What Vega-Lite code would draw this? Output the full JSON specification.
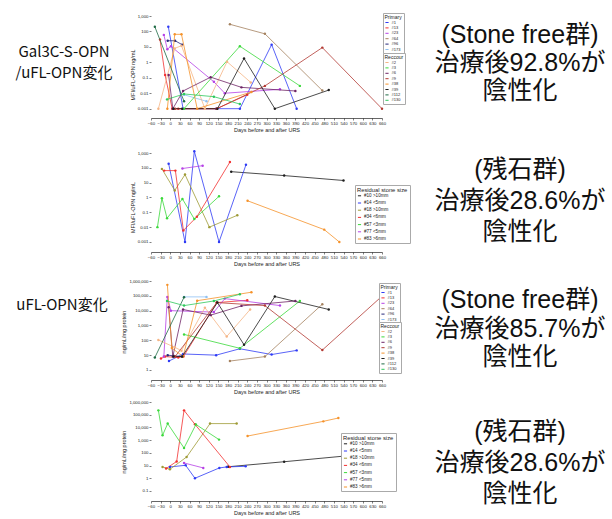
{
"$schema": "https://vega.github.io/schema/vega-lite/v6.json",
"padding": {"left": 0, "right": 0, "top": 12, "bottom": 0},
"background": "white",
"columns": 3,
"spacing": {"row": 20, "column": 48},
"bounds": "flush",
"resolve": {"scale": {"color": "independent"}, "legend": {"color": "independent"}},
"config": {
 "font": "Liberation Sans",
 "view": {"stroke": null},
 "axis": {"grid": false, "labelFontSize": 4.3, "tickSize": 2, "tickWidth": 0.5, "tickColor": "#000", "domainColor": "#000", "domainWidth": 0.6, "labelColor": "#222", "titleColor": "#222", "titleFontSize": 5.5, "titleFontWeight": "normal", "titlePadding": 2, "labelPadding": 1},
 "axisX": {"labelAngle": 0, "labelOverlap": false, "labelFlush": false},
 "axisY": {"domain": false},
 "legend": {"titleFontSize": 5, "titleFontWeight": "normal", "labelFontSize": 4, "symbolSize": 10, "symbolType": "stroke", "symbolStrokeWidth": 1, "rowPadding": 0.4, "padding": 1.5, "strokeColor": "#aaaaaa", "fillColor": "white", "titlePadding": 0.5, "labelOffset": 2, "titleColor": "#222", "labelColor": "#222"}
},
"datasets": {
 "aP": [
  {"id":"#1","day":-6,"v":200},{"id":"#1","day":40,"v":0.001},{"id":"#1","day":143,"v":0.001},{"id":"#1","day":217,"v":0.001},{"id":"#1","day":316,"v":14},{"id":"#1","day":394,"v":0.001},
  {"id":"#13","day":-32,"v":30},{"id":"#13","day":-16,"v":0.15},{"id":"#13","day":6,"v":0.001},{"id":"#13","day":25,"v":0.001},{"id":"#13","day":145,"v":0.001},{"id":"#13","day":240,"v":0.008},
  {"id":"#23","day":-20,"v":60},{"id":"#23","day":-9,"v":7},{"id":"#23","day":2,"v":11},{"id":"#23","day":136,"v":0.055},{"id":"#23","day":170,"v":0.01},{"id":"#23","day":342,"v":0.018},
  {"id":"#64","day":186,"v":290},{"id":"#64","day":295,"v":70},{"id":"#64","day":474,"v":0.015},
  {"id":"#96","day":-8,"v":25},{"id":"#96","day":15,"v":25},{"id":"#96","day":37,"v":14},
  {"id":"#173","day":43,"v":0.008},{"id":"#173","day":113,"v":0.003}
 ],
 "aR": [
  {"id":"#2","day":-37,"v":0.001},{"id":"#2","day":14,"v":8},{"id":"#2","day":35,"v":12},{"id":"#2","day":108,"v":0.001},{"id":"#2","day":177,"v":1.1},{"id":"#2","day":251,"v":0.05},
  {"id":"#3","day":43,"v":0.001},{"id":"#3","day":217,"v":11},{"id":"#3","day":404,"v":0.03},
  {"id":"#6","day":-5,"v":0.15},{"id":"#6","day":8,"v":0.001},{"id":"#6","day":40,"v":0.014},{"id":"#6","day":126,"v":0.11},{"id":"#6","day":222,"v":0.024},{"id":"#6","day":390,"v":0.014},
  {"id":"#9","day":15,"v":0.001},{"id":"#9","day":145,"v":0.001},{"id":"#9","day":295,"v":0.03},{"id":"#9","day":474,"v":9},{"id":"#9","day":660,"v":0.001},
  {"id":"#38","day":-9,"v":0.001},{"id":"#38","day":14,"v":65},{"id":"#38","day":35,"v":65},{"id":"#38","day":84,"v":0.001},{"id":"#38","day":253,"v":0.012},
  {"id":"#39","day":10,"v":0.001},{"id":"#39","day":37,"v":0.001},{"id":"#39","day":147,"v":0.001},{"id":"#39","day":230,"v":1.8},{"id":"#39","day":326,"v":0.001},{"id":"#39","day":494,"v":0.016},
  {"id":"#112","day":-48,"v":200},{"id":"#112","day":43,"v":0.003},
  {"id":"#130","day":-10,"v":0.004},{"id":"#130","day":43,"v":0.009},{"id":"#130","day":136,"v":0.006},{"id":"#130","day":217,"v":0.002}
 ],
 "bD": [
  {"id":"#10 >10mm","day":190,"v":55},{"id":"#10 >10mm","day":355,"v":30},{"id":"#10 >10mm","day":540,"v":14},
  {"id":"#14 <5mm","day":-5,"v":190},{"id":"#14 <5mm","day":46,"v":0.001},{"id":"#14 <5mm","day":75,"v":1300},{"id":"#14 <5mm","day":152,"v":0.001},{"id":"#14 <5mm","day":236,"v":160},
  {"id":"#18 >10mm","day":-26,"v":85},{"id":"#18 >10mm","day":14,"v":3},{"id":"#18 >10mm","day":46,"v":35},{"id":"#18 >10mm","day":122,"v":0.01},{"id":"#18 >10mm","day":209,"v":0.063},
  {"id":"#34 <6mm","day":-19,"v":65},{"id":"#34 <6mm","day":16,"v":65},{"id":"#34 <6mm","day":41,"v":0.006},{"id":"#34 <6mm","day":83,"v":0.05},{"id":"#34 <6mm","day":186,"v":245},
  {"id":"#57 <3mm","day":-40,"v":0.01},{"id":"#57 <3mm","day":-26,"v":0.9},{"id":"#57 <3mm","day":-10,"v":0.04},{"id":"#57 <3mm","day":38,"v":0.8},{"id":"#57 <3mm","day":75,"v":0.035},{"id":"#57 <3mm","day":152,"v":1.2},
  {"id":"#77 <5mm","day":38,"v":90},{"id":"#77 <5mm","day":101,"v":140},
  {"id":"#83 >6mm","day":241,"v":0.6},{"id":"#83 >6mm","day":480,"v":0.0068},{"id":"#83 >6mm","day":527,"v":0.001}
 ],
 "cP": [
  {"id":"#1","day":-4,"v":4},{"id":"#1","day":40,"v":12},{"id":"#1","day":143,"v":10},{"id":"#1","day":217,"v":27},{"id":"#1","day":316,"v":11},{"id":"#1","day":394,"v":21},
  {"id":"#13","day":-29,"v":6},{"id":"#13","day":-16,"v":8},{"id":"#13","day":25,"v":7},{"id":"#13","day":41,"v":8},{"id":"#13","day":145,"v":35000},{"id":"#13","day":240,"v":50000},
  {"id":"#23","day":-20,"v":8},{"id":"#23","day":-9,"v":85000},{"id":"#23","day":2,"v":10000},{"id":"#23","day":136,"v":8000},{"id":"#23","day":170,"v":65000},{"id":"#23","day":342,"v":22000},
  {"id":"#64","day":186,"v":4},{"id":"#64","day":295,"v":8},{"id":"#64","day":474,"v":27000},
  {"id":"#96","day":-8,"v":10},{"id":"#96","day":10,"v":9},{"id":"#96","day":37,"v":8},
  {"id":"#173","day":43,"v":85000},{"id":"#173","day":113,"v":85000}
 ],
 "cR": [
  {"id":"#2","day":-37,"v":105},{"id":"#2","day":14,"v":34},{"id":"#2","day":35,"v":20},{"id":"#2","day":108,"v":16000},{"id":"#2","day":176,"v":180},{"id":"#2","day":249,"v":12000},
  {"id":"#3","day":43,"v":250},{"id":"#3","day":217,"v":29},{"id":"#3","day":404,"v":45000},
  {"id":"#6","day":-5,"v":17000},{"id":"#6","day":8,"v":8},{"id":"#6","day":40,"v":12000},{"id":"#6","day":126,"v":5000},{"id":"#6","day":222,"v":21000},{"id":"#6","day":390,"v":45000},
  {"id":"#9","day":15,"v":8},{"id":"#9","day":145,"v":35000},{"id":"#9","day":295,"v":22000},{"id":"#9","day":474,"v":22},{"id":"#9","day":660,"v":95000},
  {"id":"#38","day":-9,"v":550000},{"id":"#38","day":5,"v":30},{"id":"#38","day":40,"v":8},{"id":"#38","day":84,"v":47000},{"id":"#38","day":253,"v":175000},
  {"id":"#39","day":10,"v":8},{"id":"#39","day":37,"v":8},{"id":"#39","day":147,"v":35000},{"id":"#39","day":230,"v":50},{"id":"#39","day":326,"v":90000},{"id":"#39","day":494,"v":12000},
  {"id":"#112","day":-48,"v":7},{"id":"#112","day":43,"v":80000},
  {"id":"#130","day":-10,"v":45000},{"id":"#130","day":43,"v":22000},{"id":"#130","day":136,"v":45000},{"id":"#130","day":217,"v":127000}
 ],
 "dD": [
  {"id":"#10 >10mm","day":180,"v":8},{"id":"#10 >10mm","day":355,"v":20},{"id":"#10 >10mm","day":540,"v":55},
  {"id":"#14 <5mm","day":-1,"v":7.8},{"id":"#14 <5mm","day":48,"v":10.5},{"id":"#14 <5mm","day":77,"v":1},{"id":"#14 <5mm","day":153,"v":6.5},{"id":"#14 <5mm","day":176,"v":7.8},{"id":"#14 <5mm","day":235,"v":8.7},
  {"id":"#18 >10mm","day":-24,"v":7.8},{"id":"#18 >10mm","day":-1,"v":5.1},{"id":"#18 >10mm","day":51,"v":47},{"id":"#18 >10mm","day":124,"v":20000},{"id":"#18 >10mm","day":207,"v":20000},
  {"id":"#34 <6mm","day":-13,"v":5.8},{"id":"#34 <6mm","day":20,"v":21},{"id":"#34 <6mm","day":43,"v":220000},{"id":"#34 <6mm","day":77,"v":17500},{"id":"#34 <6mm","day":186,"v":7.8},
  {"id":"#57 <3mm","day":-37,"v":220000},{"id":"#57 <3mm","day":-24,"v":2400},{"id":"#57 <3mm","day":-8,"v":20000},{"id":"#57 <3mm","day":43,"v":240},{"id":"#57 <3mm","day":80,"v":17000},{"id":"#57 <3mm","day":152,"v":1100},
  {"id":"#77 <5mm","day":43,"v":16},{"id":"#77 <5mm","day":103,"v":6.5},
  {"id":"#83 >6mm","day":241,"v":2100},{"id":"#83 >6mm","day":477,"v":30000},{"id":"#83 >6mm","day":524,"v":55000}
 ]
},
"concat": [
 {"width": 103, "height": 117,
  "data": {"values": [{"line": 1, "t": "Gal3C-S-OPN"}, {"line": 2, "t": "/uFL-OPN変化"}]},
  "mark": {"type": "text", "font": "Noto Sans CJK JP", "fontSize": 15, "baseline": "middle", "dx": 12.5, "color": "#111"},
  "encoding": {"y": {"field": "line", "type": "quantitative", "scale": {"domain": [-0.714, 4.857], "reverse": true, "nice": false, "zero": false}, "axis": null}, "text": {"field": "t"}}},
 {"width": 231, "height": 117,
  "encoding": {
   "x": {"field": "day", "type": "quantitative", "scale": {"domain": [-60, 660], "nice": false, "zero": false}, "axis": {"values": [-60,-30,0,30,60,90,120,150,180,210,240,270,300,330,360,390,420,450,480,510,540,570,600,630,660], "title": "Days before and after URS", "offset": -15}},
   "y": {"field": "v", "type": "quantitative", "scale": {"type": "log", "domain": [2.673e-5, 1000], "nice": false}, "axis": {"values": [0.001, 0.01, 0.1, 1, 10, 100, 1000], "format": ",", "title": "MFI/uFL-OPN ng/mL"}}
  },
  "layer": [
   {"data": {"values": [{}]}, "mark": {"type": "rule", "stroke": "#999", "strokeWidth": 0.6, "strokeDash": [1.2, 1.2]}, "encoding": {"x": {"datum": -60}, "x2": {"datum": 660}, "y": {"datum": 0.3}}},
   {"data": {"values": [{}]}, "mark": {"type": "rule", "stroke": "#999", "strokeWidth": 0.6, "strokeDash": [1.2, 1.2]}, "encoding": {"x": {"datum": 0}, "y": {"datum": 1000}, "y2": {"datum": 0.00025}}},
   {"data": {"values": [{}]}, "mark": {"type": "rule", "stroke": "#000", "strokeWidth": 0.6}, "encoding": {"x": {"datum": -60}, "y": {"datum": 1000}, "y2": {"datum": 0.001}}},
   {"data": {"name": "aP"}, "mark": {"type": "line", "strokeWidth": 0.8, "point": {"filled": true, "size": 6}},
    "encoding": {"color": {"field": "id", "type": "nominal", "scale": {"domain": ["#1","#13","#23","#64","#96","#173"], "range": ["#2F3BF5","#F23030","#B640E6","#A5825F","#26287A","#8EC0F2"]}, "legend": {"title": "Primary", "orient": "none", "legendX": 232, "legendY": -3}}}},
   {"data": {"name": "aR"}, "mark": {"type": "line", "strokeWidth": 0.8, "point": {"filled": true, "size": 6}},
    "encoding": {"color": {"field": "id", "type": "nominal", "scale": {"domain": ["#2","#3","#6","#9","#38","#39","#112","#130"], "range": ["#F5B585","#3BD93B","#6E2466","#B23A33","#F5922A","#1E1E1E","#1F6B45","#2EC95C"]}, "legend": {"title": "Reccour", "orient": "none", "legendX": 232, "legendY": 37}}}},
   {"data": {"values": [{}]}, "mark": {"type": "text", "text": "Gal3C-S-OPN / uFL-OPN", "fontSize": 5.5, "dy": -6, "color": "#333"}, "encoding": {"x": {"datum": 300}, "y": {"datum": 1000}}},
   {"data": {"values": [{}]}, "mark": {"type": "text", "text": "92.8%", "fontSize": 13, "dy": 7, "color": "#111"}, "encoding": {"x": {"datum": 576}, "y": {"datum": 1000}}},
   {"data": {"values": [{}]}, "mark": {"type": "text", "text": "(13/14) < cutoff", "fontSize": 5, "dy": 15, "color": "#222"}, "encoding": {"x": {"datum": 576}, "y": {"datum": 1000}}},
   {"data": {"values": [{}]}, "mark": {"type": "text", "text": "a", "fontSize": 6.5, "fontWeight": "bold", "dx": -39, "dy": 4}, "encoding": {"x": {"datum": -60}, "y": {"datum": 1000}}},
   {"data": {"values": [{}]}, "mark": {"type": "text", "text": "↑", "fontSize": 8, "dy": 12}, "encoding": {"x": {"datum": 0}, "y": {"datum": 0.00025}}},
   {"data": {"values": [{}]}, "mark": {"type": "text", "text": "URS", "fontSize": 5.5, "fontWeight": "bold", "dy": 19}, "encoding": {"x": {"datum": 0}, "y": {"datum": 0.00025}}}
  ],
  "resolve": {"scale": {"color": "independent"}, "legend": {"color": "independent"}}},
 {"width": 180, "height": 117,
  "data": {"values": [{"line": 1, "t": "(Stone free群)"}, {"line": 2, "t": "治療後92.8%が"}, {"line": 3, "t": "陰性化"}]},
  "mark": {"type": "text", "font": "Liberation Sans, Noto Sans CJK JP", "fontSize": 25, "baseline": "middle", "color": "#111"},
  "encoding": {"y": {"field": "line", "type": "quantitative", "scale": {"domain": [0.321, 4.5], "reverse": true, "nice": false, "zero": false}, "axis": null}, "text": {"field": "t"}}},

 {"width": 103, "height": 108, "data": {"values": [{"t": ""}]}, "mark": {"type": "text"}, "encoding": {"text": {"field": "t"}}},
 {"width": 231, "height": 108,
  "encoding": {
   "x": {"field": "day", "type": "quantitative", "scale": {"domain": [-60, 660], "nice": false, "zero": false}, "axis": {"values": [-60,-30,0,30,60,90,120,150,180,210,240,270,300,330,360,390,420,450,480,510,540,570,600,630,660], "title": "Days before and after URS", "offset": -9}},
   "y": {"field": "v", "type": "quantitative", "scale": {"type": "log", "domain": [5.21e-5, 1000], "nice": false}, "axis": {"values": [0.001, 0.01, 0.1, 1, 10, 100, 1000], "format": ",", "title": "MFI/uFL-OPN ng/mL"}}
  },
  "layer": [
   {"data": {"values": [{}]}, "mark": {"type": "rule", "stroke": "#999", "strokeWidth": 0.6, "strokeDash": [1.2, 1.2]}, "encoding": {"x": {"datum": -60}, "x2": {"datum": 660}, "y": {"datum": 0.3}}},
   {"data": {"values": [{}]}, "mark": {"type": "rule", "stroke": "#999", "strokeWidth": 0.6, "strokeDash": [1.2, 1.2]}, "encoding": {"x": {"datum": 0}, "y": {"datum": 1000}, "y2": {"datum": 0.00021}}},
   {"data": {"values": [{}]}, "mark": {"type": "rule", "stroke": "#000", "strokeWidth": 0.6}, "encoding": {"x": {"datum": -60}, "y": {"datum": 1000}, "y2": {"datum": 0.001}}},
   {"data": {"name": "bD"}, "mark": {"type": "line", "strokeWidth": 0.8, "point": {"filled": true, "size": 6}},
    "encoding": {"color": {"field": "id", "type": "nominal", "scale": {"domain": ["#10 >10mm","#14 <5mm","#18 >10mm","#34 <6mm","#57 <3mm","#77 <5mm","#83 >6mm"], "range": ["#1E1E1E","#2F3BF5","#9E9A35","#F23030","#3BD93B","#B640E6","#F5922A"]}, "legend": {"title": "Residual stone size", "orient": "none", "legendX": 204, "legendY": 32, "labelFontSize": 4.6, "titleFontSize": 5.8, "rowPadding": 1.2, "padding": 2}}}},
   {"data": {"values": [{}]}, "mark": {"type": "text", "text": "Gal3C-S-OPN / uFL-OPN", "fontSize": 5.5, "dy": -1, "color": "#333"}, "encoding": {"x": {"datum": 300}, "y": {"datum": 1000}}},
   {"data": {"values": [{}]}, "mark": {"type": "text", "text": "28.6%", "fontSize": 13, "dy": 12, "color": "#111"}, "encoding": {"x": {"datum": 623}, "y": {"datum": 1000}}},
   {"data": {"values": [{}]}, "mark": {"type": "text", "text": "(2/7) < cutoff", "fontSize": 5, "dy": 20, "color": "#222"}, "encoding": {"x": {"datum": 623}, "y": {"datum": 1000}}},
   {"data": {"values": [{}]}, "mark": {"type": "text", "text": "b", "fontSize": 6.5, "fontWeight": "bold", "dx": -39, "dy": 0}, "encoding": {"x": {"datum": -60}, "y": {"datum": 1000}}},
   {"data": {"values": [{}]}, "mark": {"type": "text", "text": "↑", "fontSize": 8, "dy": 10}, "encoding": {"x": {"datum": 0}, "y": {"datum": 0.00021}}},
   {"data": {"values": [{}]}, "mark": {"type": "text", "text": "URS", "fontSize": 5.5, "fontWeight": "bold", "dy": 16}, "encoding": {"x": {"datum": 0}, "y": {"datum": 0.00021}}}
  ]},
 {"width": 180, "height": 108,
  "data": {"values": [{"line": 1, "t": "(残石群)"}, {"line": 2, "t": "治療後28.6%が"}, {"line": 3, "t": "陰性化"}]},
  "mark": {"type": "text", "font": "Liberation Sans, Noto Sans CJK JP", "fontSize": 25, "baseline": "middle", "color": "#111"},
  "encoding": {"y": {"field": "line", "type": "quantitative", "scale": {"domain": [0.452, 3.936], "reverse": true, "nice": false, "zero": false}, "axis": null}, "text": {"field": "t"}}},

 {"width": 103, "height": 101,
  "data": {"values": [{"line": 1, "t": "uFL-OPN変化"}]},
  "mark": {"type": "text", "font": "Noto Sans CJK JP", "fontSize": 15, "baseline": "middle", "dx": 10.5, "color": "#111"},
  "encoding": {"y": {"field": "line", "type": "quantitative", "scale": {"domain": [-0.143, 4.667], "reverse": true, "nice": false, "zero": false}, "axis": null}, "text": {"field": "t"}}},
 {"width": 231, "height": 101,
  "encoding": {
   "x": {"field": "day", "type": "quantitative", "scale": {"domain": [-60, 660], "nice": false, "zero": false}, "axis": {"values": [-60,-30,0,30,60,90,120,150,180,210,240,270,300,330,360,390,420,450,480,510,540,570,600,630,660], "title": "Days before and after URS", "offset": -2}},
   "y": {"field": "v", "type": "quantitative", "scale": {"type": "log", "domain": [0.1549, 1000000], "nice": false}, "axis": {"values": [1, 10, 100, 1000, 10000, 100000, 1000000], "format": ",", "title": "ng/mL/mg protein"}}
  },
  "layer": [
   {"data": {"values": [{}]}, "mark": {"type": "rule", "stroke": "#999", "strokeWidth": 0.6, "strokeDash": [1.2, 1.2]}, "encoding": {"x": {"datum": -60}, "x2": {"datum": 660}, "y": {"datum": 4000}}},
   {"data": {"values": [{}]}, "mark": {"type": "rule", "stroke": "#999", "strokeWidth": 0.6, "strokeDash": [1.2, 1.2]}, "encoding": {"x": {"datum": 0}, "y": {"datum": 1000000}, "y2": {"datum": 0.211}}},
   {"data": {"values": [{}]}, "mark": {"type": "rule", "stroke": "#000", "strokeWidth": 0.6}, "encoding": {"x": {"datum": -60}, "y": {"datum": 1000000}, "y2": {"datum": 1}}},
   {"data": {"name": "cP"}, "mark": {"type": "line", "strokeWidth": 0.8, "point": {"filled": true, "size": 6}},
    "encoding": {"color": {"field": "id", "type": "nominal", "scale": {"domain": ["#1","#13","#23","#64","#96","#173"], "range": ["#2F3BF5","#F23030","#B640E6","#A5825F","#26287A","#8EC0F2"]}, "legend": {"title": "Primary", "orient": "none", "legendX": 228, "legendY": 2}}}},
   {"data": {"name": "cR"}, "mark": {"type": "line", "strokeWidth": 0.8, "point": {"filled": true, "size": 6}},
    "encoding": {"color": {"field": "id", "type": "nominal", "scale": {"domain": ["#2","#3","#6","#9","#38","#39","#112","#130"], "range": ["#F5B585","#3BD93B","#6E2466","#B23A33","#F5922A","#1E1E1E","#1F6B45","#2EC95C"]}, "legend": {"title": "Reccour", "orient": "none", "legendX": 228, "legendY": 41}}}},
   {"data": {"values": [{}]}, "mark": {"type": "text", "text": "uFL-OPN", "fontSize": 5.5, "dy": -3, "color": "#333"}, "encoding": {"x": {"datum": 300}, "y": {"datum": 1000000}}},
   {"data": {"values": [{}]}, "mark": {"type": "text", "text": "85.7%", "fontSize": 13, "dy": 10, "color": "#111"}, "encoding": {"x": {"datum": 560}, "y": {"datum": 1000000}}},
   {"data": {"values": [{}]}, "mark": {"type": "text", "text": "(12/14) > cutoff", "fontSize": 5, "dy": 18, "color": "#222"}, "encoding": {"x": {"datum": 560}, "y": {"datum": 1000000}}},
   {"data": {"values": [{}]}, "mark": {"type": "text", "text": "c", "fontSize": 6.5, "fontWeight": "bold", "dx": -39, "dy": 4}, "encoding": {"x": {"datum": -60}, "y": {"datum": 1000000}}},
   {"data": {"values": [{}]}, "mark": {"type": "text", "text": "↑", "fontSize": 8, "dy": 15}, "encoding": {"x": {"datum": 0}, "y": {"datum": 0.211}}},
   {"data": {"values": [{}]}, "mark": {"type": "text", "text": "URS", "fontSize": 5.5, "fontWeight": "bold", "dy": 21}, "encoding": {"x": {"datum": 0}, "y": {"datum": 0.211}}}
  ],
  "resolve": {"scale": {"color": "independent"}, "legend": {"color": "independent"}}},
 {"width": 180, "height": 101,
  "data": {"values": [{"line": 1, "t": "(Stone free群)"}, {"line": 2, "t": "治療後85.7%が"}, {"line": 3, "t": "陰性化"}]},
  "mark": {"type": "text", "font": "Liberation Sans, Noto Sans CJK JP", "fontSize": 25, "baseline": "middle", "color": "#111"},
  "encoding": {"y": {"field": "line", "type": "quantitative", "scale": {"domain": [0.333, 3.877], "reverse": true, "nice": false, "zero": false}, "axis": null}, "text": {"field": "t"}}},

 {"width": 103, "height": 99, "data": {"values": [{"t": ""}]}, "mark": {"type": "text"}, "encoding": {"text": {"field": "t"}}},
 {"width": 231, "height": 99,
  "encoding": {
   "x": {"field": "day", "type": "quantitative", "scale": {"domain": [-60, 660], "nice": false, "zero": false}, "axis": {"values": [-60,-30,0,30,60,90,120,150,180,210,240,270,300,330,360,390,420,450,480,510,540,570,600,630,660], "title": "Days before and after URS", "offset": 0}},
   "y": {"field": "v", "type": "quantitative", "scale": {"type": "log", "domain": [0.01626, 1000000], "nice": false}, "axis": {"values": [0.1, 1, 10, 100, 1000, 10000, 100000, 1000000], "format": ",", "title": "ng/mL/mg protein"}}
  },
  "layer": [
   {"data": {"values": [{}]}, "mark": {"type": "rule", "stroke": "#999", "strokeWidth": 0.6, "strokeDash": [1.2, 1.2]}, "encoding": {"x": {"datum": -60}, "x2": {"datum": 660}, "y": {"datum": 4000}}},
   {"data": {"values": [{}]}, "mark": {"type": "rule", "stroke": "#999", "strokeWidth": 0.6, "strokeDash": [1.2, 1.2]}, "encoding": {"x": {"datum": 0}, "y": {"datum": 1000000}, "y2": {"datum": 0.01626}}},
   {"data": {"values": [{}]}, "mark": {"type": "rule", "stroke": "#000", "strokeWidth": 0.6}, "encoding": {"x": {"datum": -60}, "y": {"datum": 1000000}, "y2": {"datum": 0.1}}},
   {"data": {"name": "dD"}, "mark": {"type": "line", "strokeWidth": 0.8, "point": {"filled": true, "size": 6}},
    "encoding": {"color": {"field": "id", "type": "nominal", "scale": {"domain": ["#10 >10mm","#14 <5mm","#18 >10mm","#34 <6mm","#57 <3mm","#77 <5mm","#83 >6mm"], "range": ["#1E1E1E","#2F3BF5","#9E9A35","#F23030","#3BD93B","#B640E6","#F5922A"]}, "legend": {"title": "Residual stone size", "orient": "none", "legendX": 190, "legendY": 31, "labelFontSize": 4.6, "titleFontSize": 5.8, "rowPadding": 1.2, "padding": 2}}}},
   {"data": {"values": [{}]}, "mark": {"type": "text", "text": "uFL-OPN", "fontSize": 5.5, "dy": 4, "color": "#333"}, "encoding": {"x": {"datum": 300}, "y": {"datum": 1000000}}},
   {"data": {"values": [{}]}, "mark": {"type": "text", "text": "28.6%", "fontSize": 13, "dy": 13, "color": "#111"}, "encoding": {"x": {"datum": 610}, "y": {"datum": 1000000}}},
   {"data": {"values": [{}]}, "mark": {"type": "text", "text": "(2/7) > cutoff", "fontSize": 5, "dy": 23, "color": "#222"}, "encoding": {"x": {"datum": 610}, "y": {"datum": 1000000}}},
   {"data": {"values": [{}]}, "mark": {"type": "text", "text": "d", "fontSize": 6.5, "fontWeight": "bold", "dx": -39, "dy": 21}, "encoding": {"x": {"datum": -60}, "y": {"datum": 1000000}}},
   {"data": {"values": [{}]}, "mark": {"type": "text", "text": "↑", "fontSize": 8, "dy": 13}, "encoding": {"x": {"datum": 0}, "y": {"datum": 0.01626}}},
   {"data": {"values": [{}]}, "mark": {"type": "text", "text": "URS", "fontSize": 5.5, "fontWeight": "bold", "dy": 19}, "encoding": {"x": {"datum": 0}, "y": {"datum": 0.01626}}}
  ]},
 {"width": 180, "height": 99,
  "data": {"values": [{"line": 1, "t": "(残石群)"}, {"line": 2, "t": "治療後28.6%が"}, {"line": 3, "t": "陰性化"}]},
  "mark": {"type": "text", "font": "Liberation Sans, Noto Sans CJK JP", "fontSize": 25, "baseline": "middle", "color": "#111"},
  "encoding": {"y": {"field": "line", "type": "quantitative", "scale": {"domain": [0.032, 3.226], "reverse": true, "nice": false, "zero": false}, "axis": null}, "text": {"field": "t"}}}
]
}
